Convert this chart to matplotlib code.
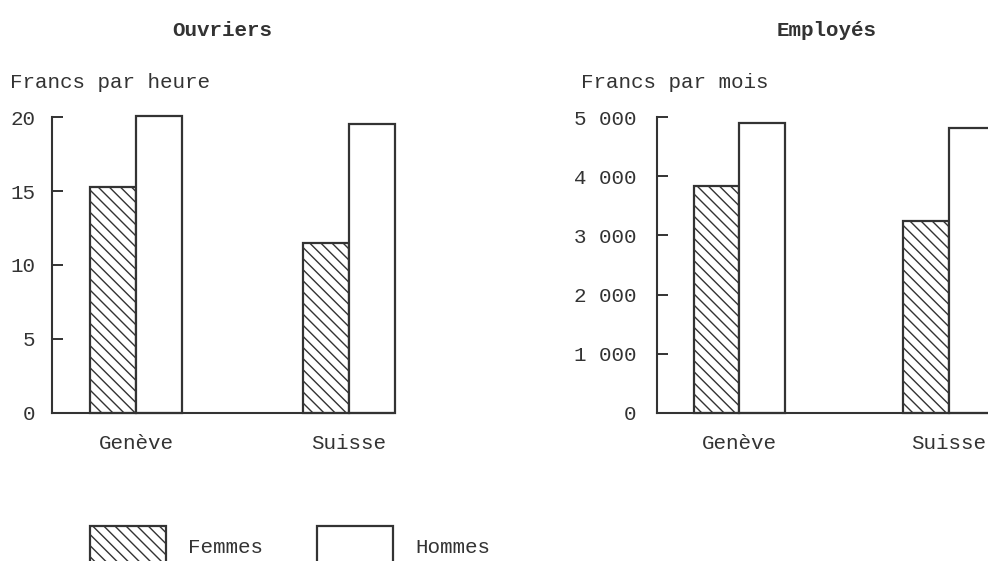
## salaires femmes / hommes, Genève et Suisse: bar figure
# -----------------------------------------------------------------------------
from matplotlib import (pyplot as plt, patches as pat)

# -----------------------------------------------------------------------------
# data
lieux = ['Genève', 'Suisse']
ouvr_femmes = [15.3, 11.5]       # francs par heure
ouvr_hommes = [20.1, 19.5]
empl_femmes = [3830, 3240]       # francs par mois
empl_hommes = [4900, 4810]
ouvr_ticks = [0, 5, 10, 15, 20]
empl_ticks = [0, 1000, 2000, 3000, 4000, 5000]
empl_ticklabels = ['0', '1 000', '2 000', '3 000', '4 000', '5 000']

# -----------------------------------------------------------------------------
plt.rcParams['font.family'] = ['Liberation Mono', 'DejaVu Sans Mono']
plt.rcParams['hatch.linewidth'] = 1.0
ink = '#333333'
fs = 15
W, H = 988, 561

fig = plt.figure(figsize=(W/100, H/100), dpi=100)

def panel(x0, width, yticks, yticklabels, femmes, hommes, title, ylabel,
          ylab_x, ypad):
    ax = fig.add_axes([x0/W, 1-413/H, width/W, 296/H])
    w = 0.216
    x = range(len(lieux))
    ax.bar([i - w/2 for i in x], femmes, width=w, facecolor='white',
        edgecolor=ink, linewidth=1.6, hatch='\\\\\\', clip_on=False)
    ax.bar([i + w/2 for i in x], hommes, width=w, facecolor='white',
        edgecolor=ink, linewidth=1.6, clip_on=False)
    ax.set_xlim(-0.394, 1.207)
    ax.set_ylim(0, yticks[-1])
    ax.set_yticks(yticks, yticklabels)
    ax.set_xticks(list(x), lieux)
    ax.tick_params(axis='y', direction='in', length=8, width=1.4,
        color=ink, labelcolor=ink, labelsize=fs, pad=ypad)
    ax.tick_params(axis='x', length=0, labelcolor=ink, labelsize=fs, pad=15)
    for s in ('top', 'right'):
        ax.spines[s].set_visible(False)
    for s in ('left', 'bottom'):
        ax.spines[s].set_color(ink); ax.spines[s].set_linewidth(1.5)
    ax.patch.set_visible(False)
    fig.text((x0 + 170)/W, 1-30/H, title, ha='center', va='center',
        fontsize=fs, fontweight='bold', color=ink)
    fig.text(ylab_x/W, 1-83/H, ylabel, ha='left', va='center',
        fontsize=fs, color=ink)
    return ax

panel(52, 341, ouvr_ticks, [str(t) for t in ouvr_ticks], ouvr_femmes,
    ouvr_hommes, 'Ouvriers', 'Francs par heure', 10, 12)
panel(657, 335, empl_ticks, empl_ticklabels, empl_femmes, empl_hommes,
    'Employés', 'Francs par mois', 581, 15)

# legend
hf = pat.Patch(facecolor='white', edgecolor=ink, linewidth=1.6, hatch='\\\\\\')
hh = pat.Patch(facecolor='white', edgecolor=ink, linewidth=1.6)
leg = fig.legend([hf, hh], ['Femmes', 'Hommes'], loc='upper left',
    bbox_to_anchor=(90/W, 1-526/H), ncol=2, frameon=False, fontsize=fs,
    handlelength=3.65, handleheight=2.7, handletextpad=1.05,
    columnspacing=2.6, borderpad=0, borderaxespad=0)
for t in leg.get_texts():
    t.set_color(ink)

fig.savefig('out.png', dpi=100)
